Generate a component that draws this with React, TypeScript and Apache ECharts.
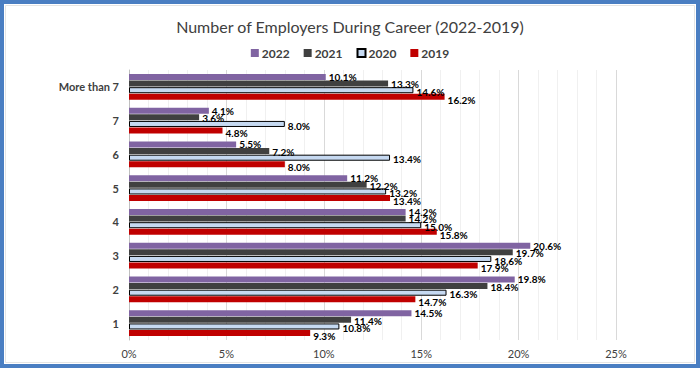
import React, { useEffect, useRef } from "react";
import * as echarts from "echarts";

const categories = ["More than 7", "7", "6", "5", "4", "3", "2", "1"];
const seriesNames = ["2022", "2021", "2020", "2019"];
const values2022 = [10.1, 4.1, 5.5, 11.2, 14.2, 20.6, 19.8, 14.5];
const values2021 = [13.3, 3.6, 7.2, 12.2, 14.2, 19.7, 18.4, 11.4];
const values2020 = [14.6, 8.0, 13.4, 13.2, 15.0, 18.6, 16.3, 10.8];
const values2019 = [16.2, 4.8, 8.0, 13.4, 15.8, 17.9, 14.7, 9.3];
const FONT = "Lato, 'Liberation Sans', sans-serif";

export default function App() {
  const ref = useRef<HTMLDivElement>(null);
  useEffect(() => {
    if (!ref.current) return;
    const chart = echarts.init(ref.current, null, { renderer: "svg" });
    const label = {
      show: true,
      position: "right" as const,
      distance: 3,
      fontFamily: FONT,
      fontSize: 10,
      fontWeight: "bold" as const,
      color: "#000",
      formatter: (p: any) => Number(p.value).toFixed(1) + "%",
    };
    const styles = [
      { color: "#8064A2" },
      { color: "#404040" },
      { color: "#C6D9F1", borderColor: "#000", borderWidth: 1 },
      { color: "#C00000" },
    ];
    const all = [values2022, values2021, values2020, values2019];
    chart.setOption({
      animation: false,
      backgroundColor: "#fff",
      textStyle: { fontFamily: FONT },
      title: {
        text: "Number of Employers During Career (2022-2019)",
        left: "center",
        top: 13,
        textStyle: { fontFamily: FONT, fontSize: 16, fontWeight: "normal", color: "#404040" },
      },
      legend: {
        data: seriesNames,
        top: 42,
        left: "center",
        icon: "rect",
        itemWidth: 8,
        itemHeight: 8,
        itemGap: 14,
        textStyle: { fontFamily: FONT, fontSize: 12, fontWeight: "bold", color: "#404040", padding: [0, 0, 0, -2] },
      },
      grid: { left: 129, right: 84, top: 70, bottom: 28, containLabel: false },
      xAxis: {
        type: "value",
        min: 0,
        max: 25,
        interval: 5,
        axisLabel: { formatter: "{value}%", fontFamily: FONT, fontSize: 11, color: "#404040", margin: 8 },
        axisLine: { show: false },
        axisTick: { show: false },
        splitLine: { show: true, lineStyle: { color: "#D9D9D9" } },
        minorTick: { show: false, splitNumber: 5 },
        minorSplitLine: { show: true, lineStyle: { color: "#F0F0F0" } },
      },
      yAxis: {
        type: "category",
        data: categories,
        inverse: true,
        axisTick: { show: false },
        axisLine: { show: true, lineStyle: { color: "#BFBFBF" } },
        axisLabel: { fontFamily: FONT, fontSize: 11, fontWeight: "bold", color: "#404040", margin: 10 },
      },
      series: seriesNames.map((name, i) => ({
        name,
        type: "bar",
        data: all[i],
        barCategoryGap: "23%",
        barGap: "10%",
        itemStyle: styles[i],
        label,
        labelLayout: { dy: i * 0.9 },
      })),
      graphic: [
        {
          type: "rect",
          shape: { x: 2, y: 2, width: 696, height: 364 },
          style: { fill: "none", stroke: "#4A7EC2", lineWidth: 4 },
          silent: true,
        },
        {
          type: "rect",
          shape: { x: 5.5, y: 5.5, width: 689, height: 357 },
          style: { fill: "none", stroke: "#E4E4E4", lineWidth: 1 },
          silent: true,
        },
      ],
    });
    return () => chart.dispose();
  }, []);
  return (
    <div
      ref={ref}
      style={{ position: "fixed", left: 0, top: 0, width: 700, height: 368 }}
    />
  );
}
